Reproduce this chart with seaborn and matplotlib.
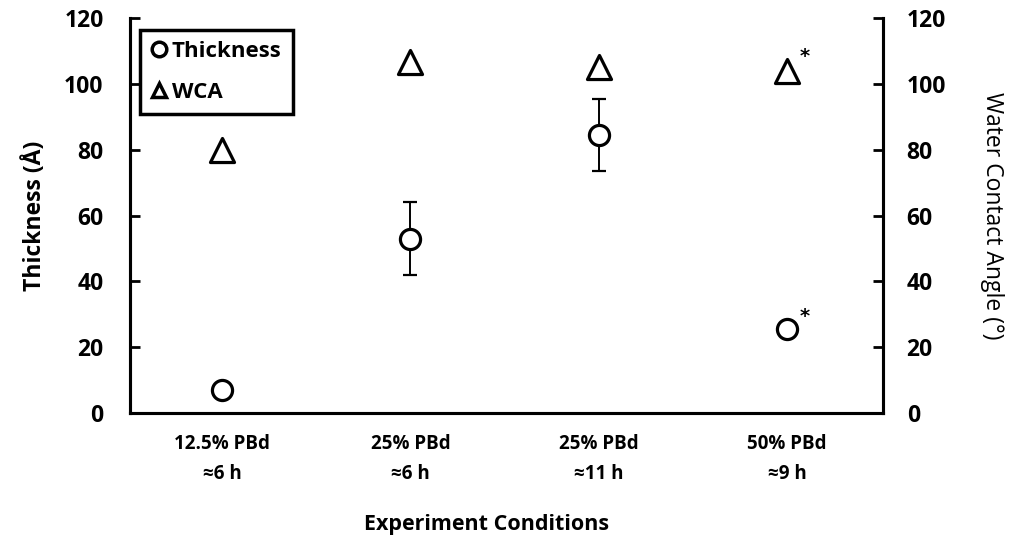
import matplotlib
matplotlib.use("Agg")
import matplotlib.pyplot as plt
import seaborn as sns
import pandas as pd
from matplotlib.lines import Line2D

# Experimental conditions and measurements
conditions = ["12.5% PBd\n≈6 h", "25% PBd\n≈6 h", "25% PBd\n≈11 h", "50% PBd\n≈9 h"]
thickness = [7, 53, 84.5, 25.5]          # Å
thickness_err = [0, 11, 11, 0]           # Å
wca = [80, 106.5, 105, 104]              # degrees
starred = [False, False, False, True]

sns.set_theme(style="white")
plt.rcParams["font.family"] = ["Open Sans", "DejaVu Sans"]
plt.rcParams["font.weight"] = "bold"
for key in ("text.color", "axes.labelcolor", "xtick.color", "ytick.color"):
    plt.rcParams[key] = "black"

df = pd.DataFrame({"pos": range(len(conditions)), "thickness": thickness,
                   "err": thickness_err, "wca": wca})

fig = plt.figure(figsize=(10.15, 5.41), dpi=100)
ax = fig.add_axes([0.128, 0.2366, 0.742, 0.7301])
ax2 = ax.twinx()

# error bars for thickness
ax.errorbar(df["pos"], df["thickness"], yerr=df["err"], fmt="none",
            ecolor="black", elinewidth=1.4, capsize=5, capthick=1.6, zorder=2)
sns.scatterplot(data=df, x="pos", y="thickness", ax=ax, marker="o", s=210,
                facecolor="white", edgecolor="black", linewidth=2.3, zorder=3)
sns.scatterplot(data=df, x="pos", y="wca", ax=ax2, marker="^", s=300,
                facecolor="white", edgecolor="black", linewidth=2.3, zorder=3)

for i, flag in enumerate(starred):
    if flag:
        ax.annotate("*", (i, thickness[i]), xytext=(9, 5), textcoords="offset points",
                    fontsize=14, fontweight="bold", fontfamily="DejaVu Sans")
        ax2.annotate("*", (i, wca[i]), xytext=(9, 6), textcoords="offset points",
                     fontsize=14, fontweight="bold", fontfamily="DejaVu Sans")

for a in (ax, ax2):
    a.set_ylim(0, 120)
    a.set_yticks(range(0, 121, 20))
    a.set_xlim(-0.49, 3.51)
    for s in a.spines.values():
        s.set_linewidth(2.2)
        s.set_color("black")
    a.spines["top"].set_visible(False)

ax.set_xticks(range(len(conditions)))
ax.set_xticklabels(conditions, fontsize=13.5, fontweight="bold", linespacing=1.65)
ax.tick_params(axis="x", direction="in", length=4, width=2, pad=15)
ax.tick_params(axis="y", direction="in", length=7, width=2, labelsize=16.5, pad=19)
ax2.tick_params(axis="y", direction="in", length=7, width=2, labelsize=16.5, pad=17)
for lab in ax.get_yticklabels() + ax2.get_yticklabels():
    lab.set_fontweight("bold")

ax.set_xlabel("Experiment Conditions", fontsize=15.5, fontweight="bold")
ax.xaxis.set_label_coords(0.473, -0.255)
ax.set_ylabel("Thickness (Å)", fontsize=16.5, fontweight="bold", labelpad=12)
ax2.set_ylabel("Water Contact Angle (°)", fontsize=16.5, fontweight="normal",
               rotation=270, labelpad=42)

handles = [
    Line2D([], [], marker="o", ls="none", markersize=10.5, markerfacecolor="white",
           markeredgecolor="black", markeredgewidth=2.5),
    Line2D([], [], marker="^", ls="none", markersize=10.5, markerfacecolor="white",
           markeredgecolor="black", markeredgewidth=2.5),
]
leg = ax2.legend(handles, ["Thickness", "WCA"], loc="upper left",
                 bbox_to_anchor=(0.013, 0.97), borderaxespad=0, fancybox=False,
                 framealpha=1, edgecolor="black", handlelength=0.7, handletextpad=0.25,
                 borderpad=0.5, labelspacing=0.9, prop={"size": 16, "weight": "bold"})
leg.get_frame().set_linewidth(2.5)

fig.savefig("out.png", dpi=100)
